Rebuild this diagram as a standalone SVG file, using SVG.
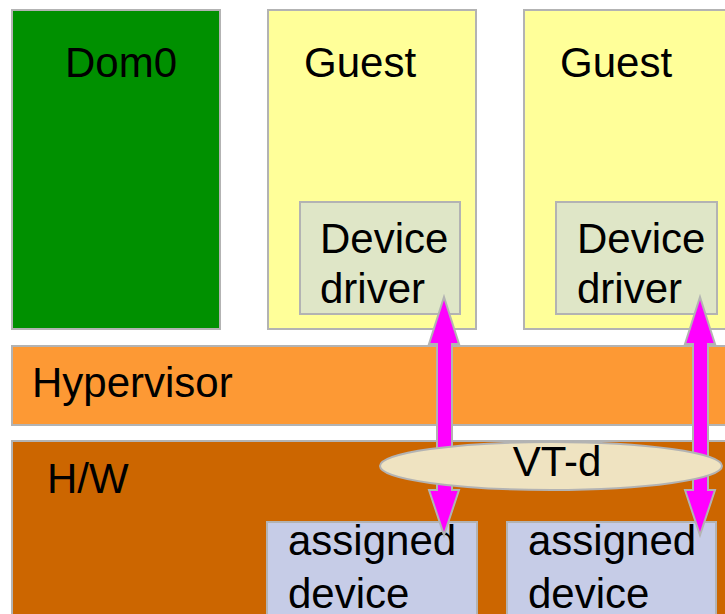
<svg xmlns="http://www.w3.org/2000/svg" width="725" height="614" viewBox="0 0 725 614">
<style>
.box{stroke:#b3b3b3;stroke-width:2}
.t{font-family:"Liberation Sans",Arial,sans-serif;font-size:42px;fill:#000}
.arr{fill:#ff00ff;stroke:#b3b3b3;stroke-width:2;stroke-linejoin:miter}
</style>
<rect width="725" height="614" fill="#ffffff"/>
<g id="dom0">
<rect class="box" x="12" y="10" width="208" height="319" fill="#009000"/>
<text class="t" x="65" y="77">Dom0</text>
</g>
<g id="guest1">
<rect class="box" x="268" y="10" width="208" height="319" fill="#ffff99"/>
<text class="t" x="304" y="77">Guest</text>
</g>
<g id="guest2">
<rect class="box" x="524" y="10" width="220" height="319" fill="#ffff99"/>
<text class="t" x="560" y="77">Guest</text>
</g>
<g id="driver1">
<rect class="box" x="300" y="202" width="160" height="112" fill="#dfe6c7"/>
<text class="t" x="320" y="253">Device</text>
<text class="t" x="320" y="303">driver</text>
</g>
<g id="driver2">
<rect class="box" x="556" y="202" width="161" height="112" fill="#dfe6c7"/>
<text class="t" x="577" y="253">Device</text>
<text class="t" x="577" y="303">driver</text>
</g>
<g id="hypervisor">
<rect class="box" x="12" y="346" width="730" height="79" fill="#fd9934"/>
<text class="t" x="32" y="397">Hypervisor</text>
</g>
<g id="hw">
<rect class="box" x="12" y="441" width="730" height="190" fill="#cc6600"/>
<text class="t" x="47" y="493">H/W</text>
</g>
<g id="device1">
<rect class="box" x="267" y="522" width="210" height="110" fill="#c6cce7"/>
<text class="t" x="288" y="555">assigned</text>
<text class="t" x="288" y="608">device</text>
</g>
<g id="device2">
<rect class="box" x="507" y="522" width="209" height="110" fill="#c6cce7"/>
<text class="t" x="528" y="555">assigned</text>
<text class="t" x="528" y="608">device</text>
</g>
<g id="connectors">
<polygon class="arr" points="444,297 459,344 452,344 452,490 459,490 444,535 429,490 437,490 437,344 429,344"/>
<polygon class="arr" points="700,297 715,344 708,344 708,490 715,490 700,535 685,490 693,490 693,344 685,344"/>
</g>
<g id="vtd">
<ellipse class="box" cx="551" cy="466" rx="171" ry="24" fill="#efe3c1"/>
<text class="t" x="557" y="476" text-anchor="middle">VT-d</text>
</g>
</svg>
